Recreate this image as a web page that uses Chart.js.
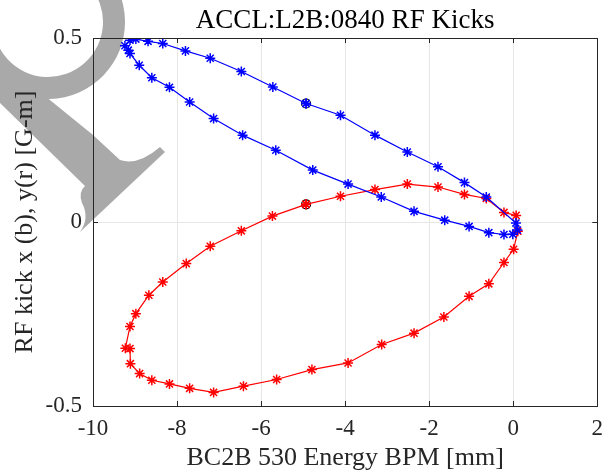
<!DOCTYPE html>
<html>
<head>
<meta charset="utf-8">
<script src="https://cdn.jsdelivr.net/npm/chart.js@4.4.0/dist/chart.umd.min.js"></script>
<style>
  html, body { margin: 0; padding: 0; background: #fff; }
  #wrap { width: 612px; height: 474px; }
</style>
</head>
<body>
<div id="wrap"><canvas id="kicks" width="612" height="474"></canvas></div>
<script>
// blue loop: x kick vs BPM reading (starts at the marked point, runs round the loop)
const blueX = [-4.93, -4.11, -3.29, -2.52, -1.79, -1.16, -0.64, 0.065, 0.10, -0.01,
               -0.22, -0.58, -1.05, -1.63, -2.36, -3.14, -3.93, -4.77, -5.65, -6.44,
               -7.13, -7.70, -8.18, -8.60, -8.90, -9.12, -9.16, -9.24, -9.12, -8.98,
               -8.69, -8.34, -7.80, -7.21, -6.47, -5.72, -4.93];
const blueY = [0.322, 0.290, 0.236, 0.190, 0.150, 0.107, 0.068, -0.003, -0.022, -0.033,
               -0.034, -0.029, -0.012, 0.005, 0.029, 0.068, 0.103, 0.141, 0.195, 0.236,
               0.281, 0.326, 0.366, 0.392, 0.426, 0.458, 0.467, 0.479, 0.494, 0.497,
               0.491, 0.485, 0.465, 0.445, 0.409, 0.367, 0.322];

// red loop: y kick vs BPM reading
const redX = [-4.93, -5.73, -6.47, -7.21, -7.78, -8.34, -8.67, -8.98, -9.12, -9.23,
              -9.12, -9.11, -8.89, -8.60, -8.18, -7.70, -7.13, -6.42, -5.63, -4.79,
              -3.93, -3.13, -2.36, -1.65, -1.05, -0.58, -0.22, 0.01, 0.11, 0.07,
              -0.22, -0.64, -1.16, -1.79, -2.52, -3.29, -4.11, -4.93];
const redY = [0.048, 0.016, -0.024, -0.066, -0.113, -0.163, -0.199, -0.249, -0.284, -0.343,
              -0.344, -0.385, -0.412, -0.430, -0.440, -0.452, -0.463, -0.446, -0.428, -0.401,
              -0.383, -0.333, -0.302, -0.258, -0.202, -0.168, -0.110, -0.074, -0.025, 0.018,
              0.026, 0.064, 0.075, 0.095, 0.103, 0.088, 0.070, 0.048];

// current operating point, circled on both loops
const markX = [-4.93, -4.93];
const markY = [0.322, 0.048];

const xTicks = [-10, -8, -6, -4, -2, 0, 2];
const yTicks = [-0.5, 0, 0.5];

const titleText = 'ACCL:L2B:0840 RF Kicks';
const xLabel = 'BC2B 530 Energy BPM [mm]';
const yLabel = 'RF kick x (b), y(r) [G-m]';

const SERIF = '"Liberation Serif", "Times New Roman", serif';
const AXIS_COLOR = '#262626';

function pts(xs, ys) {
    return xs.map((x, i) => ({ x: x, y: ys[i] }));
}

// grey watermark glyph in the top-left corner, painted under everything else
const watermark = {
    id: 'watermark',
    beforeDraw(chart) {
        const ctx = chart.ctx;
        ctx.save();
        ctx.fillStyle = '#a9a9a9';
        ctx.beginPath();
        ctx.arc(48, 22, 77, -1.2, 2.8);
        ctx.arc(48, 22, 55, 2.8, -1.2, true);
        ctx.closePath();
        ctx.fill();
        ctx.beginPath();
        ctx.moveTo(0, 60);
        ctx.lineTo(45, 96);
        ctx.lineTo(93, 135);
        ctx.lineTo(120, 160);
        ctx.quadraticCurveTo(138, 166, 160, 147);
        ctx.lineTo(165, 152);
        ctx.lineTo(80, 232);
        ctx.quadraticCurveTo(90, 218, 82, 203);
        ctx.quadraticCurveTo(78, 192, 85, 186);
        ctx.lineTo(0, 103);
        ctx.closePath();
        ctx.fill();
        ctx.restore();
    }
};

// matlab style box with inward ticks, plus the title centred over the axes
const frame = {
    id: 'frame',
    afterDraw(chart) {
        const { ctx, chartArea: a, scales } = chart;
        ctx.save();
        ctx.strokeStyle = AXIS_COLOR;
        ctx.lineWidth = 1;
        ctx.beginPath();
        xTicks.forEach(v => {
            const px = Math.round(scales.x.getPixelForValue(v)) + 0.5;
            ctx.moveTo(px, a.bottom); ctx.lineTo(px, a.bottom - 5);
            ctx.moveTo(px, a.top); ctx.lineTo(px, a.top + 5);
        });
        yTicks.forEach(v => {
            const py = Math.round(scales.y.getPixelForValue(v)) + 0.5;
            ctx.moveTo(a.left, py); ctx.lineTo(a.left + 5, py);
            ctx.moveTo(a.right, py); ctx.lineTo(a.right - 5, py);
        });
        ctx.stroke();
        ctx.strokeRect(Math.round(a.left) + 0.5, Math.round(a.top) + 0.5,
                       Math.round(a.right - a.left), Math.round(a.bottom - a.top));

        ctx.fillStyle = '#000';
        ctx.font = '27px ' + SERIF;
        ctx.textAlign = 'center';
        ctx.textBaseline = 'alphabetic';
        ctx.fillText(titleText, (a.left + a.right) / 2, 28);
        ctx.restore();
    }
};

const starSet = (xs, ys, color) => ({
    data: pts(xs, ys),
    showLine: true,
    borderColor: color,
    backgroundColor: color,
    borderWidth: 1.2,
    pointStyle: 'star',
    pointRadius: 5,
    pointBorderWidth: 1.5,
    pointBorderColor: color
});

new Chart(document.getElementById('kicks'), {
    type: 'scatter',
    data: {
        datasets: [
            starSet(blueX, blueY, '#0000ff'),
            starSet(redX, redY, '#ff0000'),
            {
                data: pts(markX, markY),
                showLine: false,
                pointStyle: 'circle',
                pointRadius: 4.5,
                pointBorderWidth: 1.2,
                pointBorderColor: '#000',
                pointBackgroundColor: 'rgba(0,0,0,0)'
            }
        ]
    },
    options: {
        responsive: false,
        animation: false,
        devicePixelRatio: 1,
        layout: { padding: { top: 38, right: 12, left: 0, bottom: 0 } },
        plugins: {
            legend: { display: false },
            tooltip: { enabled: false },
            title: { display: false }
        },
        scales: {
            x: {
                type: 'linear',
                min: -10,
                max: 2,
                afterBuildTicks: s => { s.ticks = xTicks.map(v => ({ value: v })); },
                afterFit: s => { s.height = 68; },
                grid: { color: '#e6e6e6', drawTicks: false },
                border: { display: false },
                ticks: {
                    color: AXIS_COLOR,
                    font: { family: SERIF, size: 23 },
                    padding: 9,
                    maxRotation: 0,
                    callback: v => String(v)
                },
                title: {
                    display: true,
                    text: xLabel,
                    color: AXIS_COLOR,
                    font: { family: SERIF, size: 26 },
                    padding: { top: 0, bottom: 0 }
                }
            },
            y: {
                type: 'linear',
                min: -0.5,
                max: 0.5,
                afterBuildTicks: s => { s.ticks = yTicks.map(v => ({ value: v })); },
                afterFit: s => { s.width = 93; },
                grid: { color: '#e6e6e6', drawTicks: false },
                border: { display: false },
                ticks: {
                    color: AXIS_COLOR,
                    font: { family: SERIF, size: 23 },
                    padding: 11,
                    callback: v => String(v)
                },
                title: {
                    display: true,
                    text: yLabel,
                    color: AXIS_COLOR,
                    font: { family: SERIF, size: 26 },
                    padding: { top: 10, bottom: 0 }
                }
            }
        }
    },
    plugins: [watermark, frame]
});
</script>
</body>
</html>
